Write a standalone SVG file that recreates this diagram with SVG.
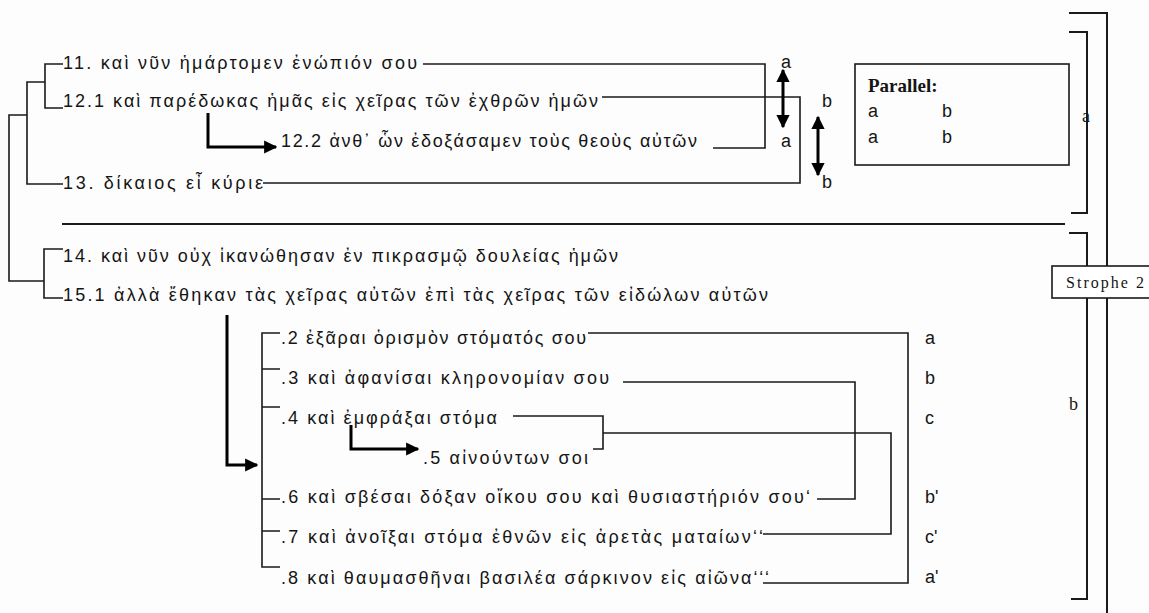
<svg xmlns="http://www.w3.org/2000/svg" width="1149" height="613" viewBox="0 0 1149 613">
  <style>
    .t { font-family: "Liberation Sans", "DejaVu Sans", sans-serif; font-size: 18px; fill: #151515; }
    .lab { font-family: "Liberation Sans", Arial, sans-serif; font-size: 18px; fill: #151515; }
    .ser { font-family: "Liberation Serif", "Times New Roman", serif; fill: #151515; }
    .ln { fill: none; stroke: #1a1a1a; stroke-width: 1.6; }
    .br { fill: none; stroke: #1a1a1a; stroke-width: 2; }
    .ar { fill: none; stroke: #000; stroke-width: 3; }
  </style>
  <defs>
    <marker id="head" viewBox="0 0 10 10" refX="9" refY="5" markerWidth="4.4" markerHeight="4.4" orient="auto-start-reverse" markerUnits="strokeWidth">
      <path d="M0,0 L10,5 L0,10 z" fill="#000"/>
    </marker>
  </defs>
  <rect width="1149" height="613" fill="#fdfdfd"/>

  <!-- verse lines of the first half -->
  <g id="v11"><text class="t" x="63" y="69" textLength="354" lengthAdjust="spacing">11. καὶ νῦν ἡμάρτομεν ἐνώπιόν σου</text></g>
  <g id="v12-1"><text class="t" x="63" y="107" textLength="535" lengthAdjust="spacing">12.1 καὶ παρέδωκας ἡμᾶς εἰς χεῖρας τῶν ἐχθρῶν ἡμῶν</text></g>
  <g id="v12-2"><text class="t" x="281" y="147" textLength="416" lengthAdjust="spacing">12.2 ἀνθ᾽ ὧν ἐδοξάσαμεν τοὺς θεοὺς αὐτῶν</text></g>
  <g id="v13"><text class="t" x="63" y="189" textLength="200" lengthAdjust="spacing">13. δίκαιος εἶ κύριε</text></g>

  <!-- verse lines of the second half -->
  <g id="v14"><text class="t" x="63" y="262" textLength="555" lengthAdjust="spacing">14. καὶ νῦν οὐχ ἱκανώθησαν ἐν πικρασμῷ δουλείας ἡμῶν</text></g>
  <g id="v15-1"><text class="t" x="63" y="301" textLength="705" lengthAdjust="spacing">15.1 ἀλλὰ ἔθηκαν τὰς χεῖρας αὐτῶν ἐπὶ τὰς χεῖρας τῶν εἰδώλων αὐτῶν</text></g>
  <g id="v15-2"><text class="t" x="281" y="344" textLength="305" lengthAdjust="spacing">.2 ἐξᾶραι ὁρισμὸν στόματός σου</text></g>
  <g id="v15-3"><text class="t" x="281" y="384" textLength="328" lengthAdjust="spacing">.3 καὶ ἀφανίσαι κληρονομίαν σου</text></g>
  <g id="v15-4"><text class="t" x="281" y="424" textLength="216" lengthAdjust="spacing">.4 καὶ ἐμφράξαι στόμα</text></g>
  <g id="v15-5"><text class="t" x="423" y="464" textLength="165" lengthAdjust="spacing">.5 αἰνούντων σοι</text></g>
  <g id="v15-6"><text class="t" x="281" y="503" textLength="529" lengthAdjust="spacing">.6 καὶ σβέσαι δόξαν οἴκου σου καὶ θυσιαστήριόν σου‘</text></g>
  <g id="v15-7"><text class="t" x="281" y="543" textLength="482" lengthAdjust="spacing">.7 καὶ ἀνοῖξαι στόμα ἐθνῶν εἰς ἀρετὰς ματαίων‘‘</text></g>
  <g id="v15-8"><text class="t" x="281" y="584" textLength="488" lengthAdjust="spacing">.8 καὶ θαυμασθῆναι βασιλέα σάρκινον εἰς αἰῶνα‘‘‘</text></g>

  <!-- parallel letters -->
  <g id="marks-top">
    <text class="lab" x="781" y="68">a</text>
    <text class="lab" x="781" y="147">a</text>
    <text class="lab" x="822" y="107">b</text>
    <text class="lab" x="822" y="188">b</text>
  </g>
  <g id="marks-chiasm">
    <text class="lab" x="925" y="344">a</text>
    <text class="lab" x="925" y="384">b</text>
    <text class="lab" x="925" y="424">c</text>
    <text class="lab" x="925" y="503">b'</text>
    <text class="lab" x="925" y="543">c'</text>
    <text class="lab" x="925" y="583">a'</text>
  </g>

  <!-- legend box -->
  <g id="legend">
    <rect x="855" y="64" width="214" height="101" fill="none" stroke="#1a1a1a" stroke-width="1.6"/>
    <text class="ser" x="868" y="92" font-size="19" font-weight="bold">Parallel:</text>
    <text class="lab" x="868" y="117">a</text>
    <text class="lab" x="942" y="117">b</text>
    <text class="lab" x="868" y="143">a</text>
    <text class="lab" x="942" y="143">b</text>
  </g>

  <!-- strophe brackets -->
  <g id="strophe">
    <path class="br" d="M1069,13 H1107 V613"/>
    <path class="br" d="M1069,32 H1087 V213 H1071"/>
    <path class="br" d="M1069,233 H1087 V599 H1071"/>
    <text class="ser" x="1082" y="122" font-size="18">a</text>
    <text class="ser" x="1069" y="410" font-size="18">b</text>
    <rect x="1052" y="266" width="100" height="32" fill="#fff" stroke="#1a1a1a" stroke-width="1.6"/>
    <text class="ser" x="1066" y="288" font-size="16" textLength="78" lengthAdjust="spacing">Strophe 2</text>
  </g>

  <g id="connectors">
    <!-- tree on the left -->
    <path class="ln" d="M63,64 H45 V108 H63"/>
    <path class="ln" d="M45,82 H27 V184 H63"/>
    <path class="ln" d="M27,115 H9 V281 H44"/>
    <path class="ln" d="M63,249 H44 V298 H63"/>
    <!-- section divider -->
    <path class="br" d="M62,224 H1065"/>
    <!-- pairings a / b -->
    <path class="ln" d="M423,64 H765 V148 H713"/>
    <path class="ln" d="M602,97 H800 V183 H263"/>
    <path class="ar" d="M783,70 V127" marker-start="url(#head)" marker-end="url(#head)"/>
    <path class="ar" d="M818,117 V175" marker-start="url(#head)" marker-end="url(#head)"/>
    <!-- dependent clauses -->
    <path class="ar" d="M208,113 V147 H276" marker-end="url(#head)" stroke-width="2.5"/>
    <path class="ar" d="M227,315 V465 H257" marker-end="url(#head)" stroke-width="2.5"/>
    <path class="ar" d="M351,425 V449 H418" marker-end="url(#head)" stroke-width="2.5"/>
    <!-- list bracket for .2 to .8 -->
    <path class="ln" d="M280,333 H262 V567 H280"/>
    <path class="ln" d="M262,369 H280 M262,407 H280 M262,499 H280 M262,531 H280"/>
    <!-- chiasm links -->
    <path class="ln" d="M588,333 H908 V583 H763"/>
    <path class="ln" d="M623,382 H855 V499 H817"/>
    <path class="ln" d="M513,416 H603 V449 H593"/>
    <path class="ln" d="M603,433 H891 V534 H763"/>
  </g>
</svg>
